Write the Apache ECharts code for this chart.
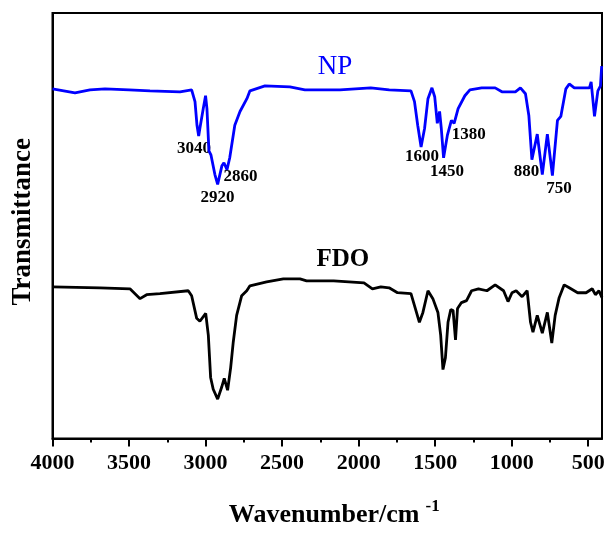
<!DOCTYPE html>
<html>
<head>
<meta charset="utf-8">
<script src="https://cdn.jsdelivr.net/npm/echarts@6/dist/echarts.min.js"></script>
<style>
html,body{margin:0;padding:0;background:#fff;}
#chart{width:608px;height:533px;}
</style>
</head>
<body>
<div id="chart"></div>
<script>
// ---- data (arbitrary transmittance units) ----
const npWavenumber = [4000,3853,3755,3657,3500,3363,3167,3091,3069,3056,3045,3037,3015,3000,2991,2978,2965,2939,2921,2893,2880,2860,2842,2809,2775,2730,2710,2612,2449,2351,2253,2122,1921,1800,1658,1635,1614,1592,1569,1547,1521,1503,1486,1471,1460,1445,1420,1394,1376,1350,1306,1273,1196,1108,1064,976,943,910,888,868,833,800,767,734,701,679,646,624,591,492,481,459,437,420,412];
const npValue      = [355,351,354,355,354,353,352,354,342,318,307,315,335,348,335,292,288,268,258,277,280,273,285,318,332,345,353,358,357,354,354,354,356,354,353,342,318,296,315,345,356,347,320,332,315,285,308,323,320,335,348,354,356,356,352,352,356,350,328,283,309,268,309,267,323,327,355,360,356,356,362,327,353,358,378];

const fdoWavenumber = [4000,3690,3494,3428,3385,3298,3113,3091,3058,3037,2999,2982,2967,2950,2921,2895,2878,2856,2836,2819,2797,2764,2731,2710,2601,2492,2383,2340,2163,1965,1910,1855,1801,1746,1658,1635,1603,1580,1547,1515,1482,1464,1449,1433,1416,1398,1383,1367,1354,1328,1295,1262,1217,1162,1108,1053,1024,998,971,932,899,877,861,833,800,767,738,716,690,657,624,569,514,474,453,430,410];
const fdoValue      = [154,153,152,142,146,147,150,145,122,119,127,105,62,50,40,52,61,49,72,98,125,145,150,155,159,162,162,160,160,158,152,154,153,148,147,135,118,128,150,142,128,105,70,82,118,131,130,100,132,138,140,150,152,150,156,150,139,148,150,144,150,118,108,125,107,128,97,125,143,156,153,148,148,152,146,150,143];

const majorTicks = [4000,3500,3000,2500,2000,1500,1000,500];
const minorTicks = [3750,3250,2750,2250,1750,1250,750];

const peakLabels = ['3040','2920','2860','1600','1450','1380','880','750'];
const peakLabelWn = [3076,2922,2772,1586,1423,1280,904,691];
const peakLabelVal = [294,245,266,286,271,309,271,254];

const seriesNames = ['NP','FDO'];
const seriesNameWn = [2155,2103];
const seriesNameVal = [377,182];

const baselineTick = [154];

// ---- chart ----
const FONT = "'Liberation Serif','Times New Roman',serif";
const zip = (a,b)=>a.map((v,i)=>[v,b[i]]);
const chart = echarts.init(document.getElementById('chart'), null, {renderer:'canvas'});

const plainLabel = {show:true, position:'inside', formatter:'{b}', fontFamily:FONT, opacity:1,
  textBorderWidth:0, textShadowBlur:0};

chart.setOption({
  animation:false,
  backgroundColor:'#fff',
  grid:{left:52.5, right:6, top:13, bottom:88, show:true, borderColor:'#000', borderWidth:2, containLabel:false},
  xAxis:[{
    type:'value', inverse:true, min:410, max:4000, position:'bottom',
    axisLine:{show:true, onZero:false, lineStyle:{color:'#000', width:2}},
    axisTick:{show:true, customValues:majorTicks, length:8, lineStyle:{color:'#000', width:2}},
    axisLabel:{show:true, customValues:majorTicks, formatter:v=>String(v), margin:14, color:'#000', fontFamily:FONT, fontWeight:'bold', fontSize:22},
    splitLine:{show:false},
    name:'Wavenumber/cm{sup|-1}', nameLocation:'middle', nameGap:60,
    nameTextStyle:{color:'#000', fontFamily:FONT, fontWeight:'bold', fontSize:26, padding:[0,0,0,14],
      rich:{sup:{fontFamily:FONT, fontWeight:'bold', fontSize:17, color:'#000', verticalAlign:'top', padding:[0,0,16,6]}}}
  },{
    type:'value', inverse:true, min:410, max:4000, position:'bottom',
    axisLine:{show:false, onZero:false},
    axisTick:{show:true, customValues:minorTicks, length:4, lineStyle:{color:'#000', width:2}},
    axisLabel:{show:false},
    splitLine:{show:false}
  }],
  yAxis:{
    type:'value', min:0, max:432,
    axisLine:{show:true, lineStyle:{color:'#000', width:2}},
    axisTick:{show:true, inside:true, customValues:baselineTick, length:6, lineStyle:{color:'#000', width:2}},
    axisLabel:{show:false},
    splitLine:{show:false},
    name:'Transmittance', nameLocation:'middle', nameRotate:90, nameGap:16,
    nameTextStyle:{color:'#000', fontFamily:FONT, fontWeight:'bold', fontSize:27, padding:[0,0,0,8]}
  },
  series:[{
    name:'NP', type:'line', data:zip(npWavenumber,npValue), symbol:'none', silent:true,
    lineStyle:{color:'#0000ff', width:2.8}
  },{
    name:'FDO', type:'line', data:zip(fdoWavenumber,fdoValue), symbol:'none', silent:true,
    lineStyle:{color:'#000', width:2.8}
  },{
    type:'scatter', symbolSize:0, itemStyle:{color:'#000', opacity:1}, silent:true,
    emphasis:{disabled:true},
    data:peakLabels.map((t,i)=>({name:t, value:[peakLabelWn[i], peakLabelVal[i]]})),
    label:Object.assign({}, plainLabel, {color:'#000', fontWeight:'bold', fontSize:17})
  },{
    type:'scatter', symbolSize:0, itemStyle:{color:'#000', opacity:1}, silent:true,
    emphasis:{disabled:true},
    data:seriesNames.map((t,i)=>({name:t, value:[seriesNameWn[i], seriesNameVal[i]],
      label:{color: i===0 ? '#0000ff' : '#000', fontWeight: i===0 ? 'normal' : 'bold', fontSize: i===0 ? 27 : 25}})),
    label:Object.assign({}, plainLabel)
  }]
});
</script>
</body>
</html>
